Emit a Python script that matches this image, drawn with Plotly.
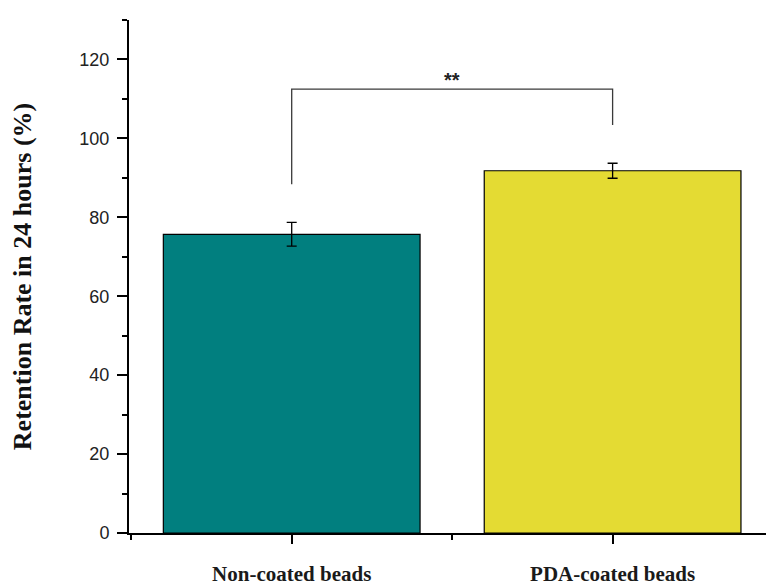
import plotly.graph_objects as go

# ---- data ----
categories = ["Non-coated beads", "PDA-coated beads"]
retention = [75.7, 91.8]
errors = [3.0, 1.9]
bar_colors = ["#017f7f", "#e4db33"]

# significance bracket (y values in data units)
bracket_pair = [0, 1]
bracket_top = 112.5
bracket_leg_bottoms = [88.4, 103.4]
bracket_label = "**"

y_ticks = [0, 20, 40, 60, 80, 100, 120]

x_pos = list(range(len(categories)))

fig = go.Figure()
fig.add_trace(go.Bar(
    x=x_pos, y=retention, width=0.8,
    marker=dict(color=bar_colors, line=dict(color="black", width=1.2)),
    error_y=dict(type="data", array=errors, visible=True,
                 color="black", thickness=1.3, width=5),
    showlegend=False,
))

bx = [bracket_pair[0], bracket_pair[0], bracket_pair[1], bracket_pair[1]]
by = [bracket_leg_bottoms[0], bracket_top, bracket_top, bracket_leg_bottoms[1]]
fig.add_trace(go.Scatter(x=bx, y=by, mode="lines",
                         line=dict(color="#3a3a3a", width=1.3),
                         showlegend=False, hoverinfo="skip"))

fig.add_annotation(x=sum(bracket_pair) / 2, y=bracket_top, text="<b>" + bracket_label + "</b>",
                   showarrow=False, yanchor="bottom", yshift=-4,
                   font=dict(family="Liberation Sans, Arial", size=20, color="#222"))

fig.update_layout(
    width=766, height=586,
    margin=dict(l=129, r=0, t=20, b=53),
    plot_bgcolor="white", paper_bgcolor="white",
    xaxis=dict(
        range=[-0.507, 1.478],
        tickmode="array", tickvals=x_pos, ticktext=["<b>" + c + "</b>" for c in categories],
        showline=True, linecolor="black", linewidth=2,
        ticks="outside", ticklen=9, tickwidth=2, tickcolor="black",
        minor=dict(tickmode="linear", tick0=0.5, dtick=1, ticks="outside",
                   ticklen=5, tickwidth=2, tickcolor="black"),
        showgrid=False, zeroline=False,
        tickfont=dict(family="Liberation Serif, Times New Roman", size=21, color="#1a1a1a"),
        ticklabelstandoff=12,
    ),
    yaxis=dict(
        range=[0, 130],
        tickmode="array", tickvals=y_ticks,
        showline=True, linecolor="black", linewidth=2,
        ticks="outside", ticklen=10, tickwidth=2, tickcolor="black",
        minor=dict(tickmode="linear", tick0=0, dtick=10, ticks="outside",
                   ticklen=5, tickwidth=2, tickcolor="black"),
        showgrid=False, zeroline=False,
        tickfont=dict(family="Liberation Sans, Arial", size=18, color="#222"),
        ticklabelstandoff=4,
        title=dict(text="<b>Retention Rate in 24 hours (%)</b>",
                   font=dict(family="Liberation Serif, Times New Roman", size=26, color="#111"),
                   standoff=40),
    ),
)

fig.write_html("out.html", config={"displayModeBar": False},
               post_script="document.body.style.margin='0';")
